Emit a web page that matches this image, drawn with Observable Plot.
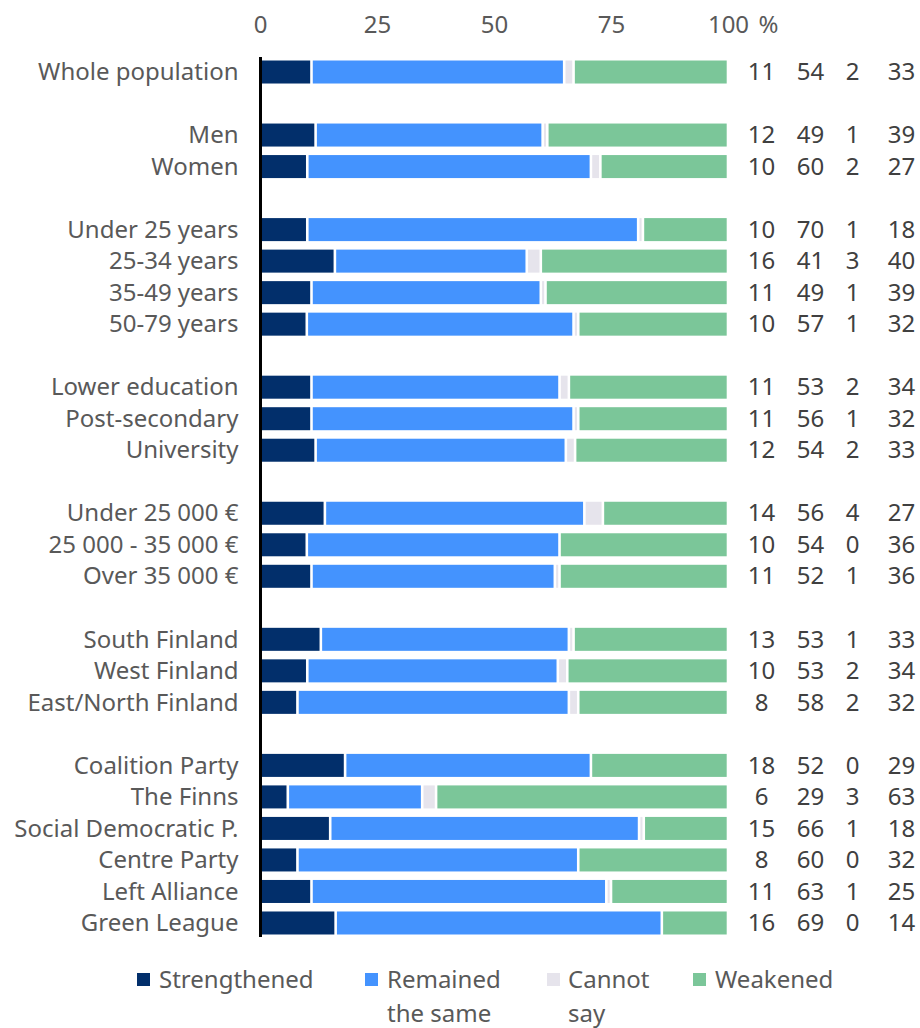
<!DOCTYPE html>
<html>
<head>
<meta charset="utf-8">
<script src="https://cdn.jsdelivr.net/npm/d3@7"></script>
<script src="https://cdn.jsdelivr.net/npm/@observablehq/plot@0.6"></script>
<style>
  body { margin: 0; background: #fff; font-family: "Noto Sans", sans-serif; }
  #chart svg { display: block; }
  #legend { position: relative; width: 920px; height: 78px; font-size: 24px; color: #595959; }
  .item { position: absolute; top: 12px; line-height: 34px; }
  .sw { position: absolute; width: 13px; height: 13px; top: 23px; }
</style>
</head>
<body>
<div id="chart"></div>
<div id="legend"></div>
<script>
const categories = ["Whole population","Men","Women","Under 25 years","25-34 years","35-49 years","50-79 years","Lower education","Post-secondary","University","Under 25 000 €","25 000 - 35 000 €","Over 35 000 €","South Finland","West Finland","East/North Finland","Coalition Party","The Finns","Social Democratic P.","Centre Party","Left Alliance","Green League"];
const groupSizes = [1, 2, 4, 3, 3, 3, 6];
const strengthened = [11,12,10,10,16,11,10,11,11,12,14,10,11,13,10,8,18,6,15,8,11,16];
const remained     = [54,49,60,70,41,49,57,53,56,54,56,54,52,53,53,58,52,29,66,60,63,69];
const cannotSay    = [2,1,2,1,3,1,1,2,1,2,4,0,1,1,2,2,0,3,1,0,1,0];
const weakened     = [33,39,27,18,40,39,32,34,32,33,27,36,36,33,34,32,29,63,18,32,25,14];
const seriesNames = ["Strengthened", "Remained the same", "Cannot say", "Weakened"];
const seriesLegend = ["Strengthened", "Remained<br>the same", "Cannot<br>say", "Weakened"];
const colors = ["#022f6b", "#4493fe", "#e6e4ec", "#7bc699"];
const xTicks = [0, 0.25, 0.5, 0.75, 1];

// y domain with gap slots between groups
const domain = [];
let k = 0;
groupSizes.forEach((n, g) => {
  if (g > 0) domain.push("gap" + g);
  for (let i = 0; i < n; i++) domain.push(categories[k++]);
});

const seriesValues = [strengthened, remained, cannotSay, weakened];
const data = [];
categories.forEach((c, i) => {
  seriesNames.forEach((s, j) => data.push({category: c, series: s, value: seriesValues[j][i]}));
});
const rows = categories.map((c, i) => ({category: c, s: strengthened[i], r: remained[i], c: cannotSay[i], w: weakened[i]}));

const txt = "#404040";
const chart = Plot.plot({
  width: 920,
  height: 950,
  marginLeft: 260,
  marginRight: 192,
  marginTop: 52,
  marginBottom: 7,
  style: {fontFamily: "Noto Sans", fontSize: "24px", color: "#595959"},
  x: {domain: [0, 1], axis: null},
  y: {domain, padding: 0.27, round: false, axis: null},
  color: {domain: seriesNames, range: colors},
  marks: [
    Plot.barX(data, Plot.stackX({
      x: "value", y: "category", fill: "series", order: seriesNames, offset: "normalize",
      insetLeft: 1.3, insetRight: 1.3
    })),
    Plot.axisX({anchor: "top", ticks: xTicks, tickSize: 0, tickPadding: 20, tickFormat: d => String(d * 100), fontSize: 24, fill: "#595959", label: null}),
    Plot.text([1], {x: d => d, text: () => "%", frameAnchor: "top", dy: -20, dx: 30, textAnchor: "start", lineAnchor: "bottom", fontSize: 24, fill: "#595959"}),
    Plot.axisY({tickSize: 0, tickPadding: 22, tickFormat: d => d.startsWith("gap") ? "" : d, fontSize: 24, fill: "#595959", label: null}),
    Plot.ruleX([0], {stroke: "#000", strokeWidth: 3, insetTop: 5, insetBottom: 6}),
    Plot.text(rows, {y: "category", text: "s", frameAnchor: "right", dx: 33, textAnchor: "middle", fontSize: 24, fill: txt}),
    Plot.text(rows, {y: "category", text: "r", frameAnchor: "right", dx: 82, textAnchor: "middle", fontSize: 24, fill: txt}),
    Plot.text(rows, {y: "category", text: "c", frameAnchor: "right", dx: 124, textAnchor: "middle", fontSize: 24, fill: txt}),
    Plot.text(rows, {y: "category", text: "w", frameAnchor: "right", dx: 173, textAnchor: "middle", fontSize: 24, fill: txt})
  ]
});
document.getElementById("chart").appendChild(chart);

const legend = document.getElementById("legend");
const swX = [137, 365, 547, 693];
const txX = [159, 387, 568, 715];
seriesNames.forEach((s, i) => {
  const sw = document.createElement("div");
  sw.className = "sw"; sw.style.left = swX[i] + "px"; sw.style.background = colors[i];
  legend.appendChild(sw);
  const t = document.createElement("div");
  t.className = "item"; t.style.left = txX[i] + "px"; t.innerHTML = seriesLegend[i];
  legend.appendChild(t);
});
</script>
</body>
</html>
